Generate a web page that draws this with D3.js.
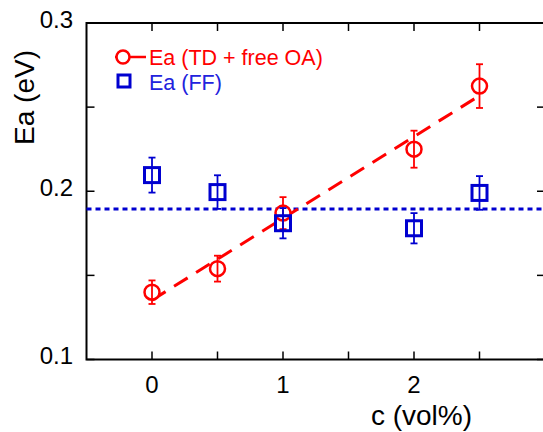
<!DOCTYPE html>
<html>
<head>
<meta charset="utf-8">
<script src="https://cdn.jsdelivr.net/npm/d3@7"></script>
<style>
    body { margin: 0; background: #fff; }
    svg { display: block; font-family: "Liberation Sans", Arial, sans-serif; }
</style>
</head>
<body>
<svg width="543" height="432"></svg>
<script>
// data
const concX = [0, 0.5, 1, 2, 2.5];
const eaTD = [0.140, 0.154, 0.187, 0.225, 0.2625];
const eaTDErr = [0.007, 0.0077, 0.0095, 0.011, 0.013];
const eaFF = [0.2096, 0.1995, 0.181, 0.178, 0.199];
const eaFFErr = [0.0104, 0.010, 0.009, 0.009, 0.010];
const fitX = [0, 2.5];
const fitY = [0.1353, 0.2568];
const ffMean = 0.1894;
const xTickLabels = [0, 1, 2];
const xTicks = [0, 0.5, 1, 1.5, 2, 2.5, 3];
const yTickLabels = [0.1, 0.2, 0.3];
const yTicks = [0.1, 0.15, 0.2, 0.25, 0.3];
const legendNames = ["Ea (TD + free OA)", "Ea (FF)"];

const svg = d3.select("svg"),
    margin = {top: 23, left: 86.5, bottom: 72.5},
    red = "#ff0000",
    blue = "#0000d0";

const x = d3.scaleLinear().domain([-0.5, 3]).range([margin.left, 545]);
const y = d3.scaleLinear().domain([0.1, 0.3]).range([359.5, margin.top]);

// frame
svg.append("rect")
    .attr("x", x(-0.5)).attr("y", y(0.3))
    .attr("width", x(3) - x(-0.5)).attr("height", y(0.1) - y(0.3))
    .attr("fill", "none").attr("stroke", "#000").attr("stroke-width", 2);

const tickLen = 8;
const ticks = svg.append("g").attr("stroke", "#000").attr("stroke-width", 1.5);
xTicks.forEach(t => {
    ticks.append("line").attr("x1", x(t)).attr("x2", x(t))
        .attr("y1", y(0.1)).attr("y2", y(0.1) - tickLen);
    ticks.append("line").attr("x1", x(t)).attr("x2", x(t))
        .attr("y1", y(0.3)).attr("y2", y(0.3) + tickLen);
});
yTicks.forEach(t => {
    ticks.append("line").attr("x1", x(-0.5)).attr("x2", x(-0.5) + tickLen)
        .attr("y1", y(t)).attr("y2", y(t));
    ticks.append("line").attr("x1", x(3)).attr("x2", x(3) - tickLen)
        .attr("y1", y(t)).attr("y2", y(t));
});

// tick labels
svg.append("g").selectAll("text").data(xTickLabels).join("text")
    .attr("x", d => x(d)).attr("y", y(0.1) + 33)
    .attr("text-anchor", "middle").attr("font-size", 24)
    .text(d => d);
svg.append("g").selectAll("text").data(yTickLabels).join("text")
    .attr("x", 73).attr("y", d => y(d) + 4.5)
    .attr("text-anchor", "end").attr("font-size", 24)
    .text(d => d3.format(".1f")(d));

// axis titles
svg.append("text")
    .attr("x", 421.5).attr("y", 425)
    .attr("text-anchor", "middle").attr("font-size", 28)
    .text("c (vol%)");
svg.append("text")
    .attr("transform", "translate(34,97.5) rotate(-90)")
    .attr("text-anchor", "middle").attr("font-size", 28)
    .text("Ea (eV)");

// mean of FF
svg.append("line")
    .attr("x1", x(-0.5)).attr("x2", x(3))
    .attr("y1", y(ffMean)).attr("y2", y(ffMean))
    .attr("stroke", blue).attr("stroke-width", 3)
    .attr("stroke-dasharray", "5,4");

// linear fit
const fit = fitX.map((d, i) => [d, fitY[i]]);
svg.append("path")
    .datum(fit)
    .attr("d", d3.line().x(d => x(d[0])).y(d => y(d[1])))
    .attr("fill", "none").attr("stroke", red).attr("stroke-width", 3)
    .attr("stroke-dasharray", "16,10");

function errorBars(vals, errs, color) {
    const g = svg.append("g").attr("stroke", color).attr("stroke-width", 1.8);
    concX.forEach((c, i) => {
        const x0 = x(c), y1 = y(vals[i] + errs[i]), y2 = y(vals[i] - errs[i]);
        g.append("line").attr("x1", x0).attr("x2", x0).attr("y1", y1).attr("y2", y2);
        g.append("line").attr("x1", x0 - 3.5).attr("x2", x0 + 3.5).attr("y1", y1).attr("y2", y1);
        g.append("line").attr("x1", x0 - 3.5).attr("x2", x0 + 3.5).attr("y1", y2).attr("y2", y2);
    });
}

// red circles
svg.append("g").selectAll("circle").data(eaTD).join("circle")
    .attr("cx", (d, i) => x(concX[i])).attr("cy", d => y(d)).attr("r", 7.5)
    .attr("fill", "#fff").attr("stroke", red).attr("stroke-width", 2.5);
errorBars(eaTD, eaTDErr, red);

// blue squares
const sq = 15;
svg.append("g").selectAll("rect").data(eaFF).join("rect")
    .attr("x", (d, i) => x(concX[i]) - sq / 2).attr("y", d => y(d) - sq / 2)
    .attr("width", sq).attr("height", sq)
    .attr("fill", "none").attr("stroke", blue).attr("stroke-width", 3);
errorBars(eaFF, eaFFErr, blue);

// legend
const legend = svg.append("g");
legend.append("line").attr("x1", 115).attr("x2", 146).attr("y1", 57).attr("y2", 57)
    .attr("stroke", red).attr("stroke-width", 2.5);
legend.append("circle").attr("cx", 123).attr("cy", 57).attr("r", 6.5)
    .attr("fill", "#fff").attr("stroke", red).attr("stroke-width", 2.5);
legend.append("rect").attr("x", 118).attr("y", 75).attr("width", 12).attr("height", 12)
    .attr("fill", "none").attr("stroke", blue).attr("stroke-width", 3);
legend.selectAll("text").data(legendNames).join("text")
    .attr("x", 149).attr("y", (d, i) => 65 + i * 25)
    .attr("font-size", 21.5)
    .attr("fill", (d, i) => i ? "#2222dd" : red)
    .text(d => d);
</script>
</body>
</html>
